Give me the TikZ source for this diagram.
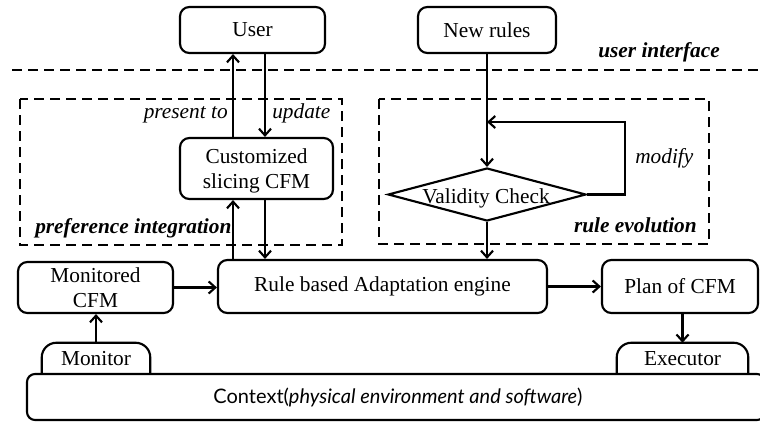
\documentclass[tikz,border=0pt]{standalone}
\usepackage{fontspec}
\setmainfont{Liberation Serif}
\newfontfamily\ctxfont{Lato}
\usetikzlibrary{arrows.meta,shapes.geometric}
\def\pxu{0.75pt}
\begin{document}
\begin{tikzpicture}[x=0.75pt,y=-0.75pt,
  box/.style={draw, line width=1.6pt, rounded corners=7pt, inner sep=0pt,
    font=\fontsize{16}{19}\selectfont, align=center},
  plain/.style={inner sep=0pt, font=\fontsize{16}{19}\selectfont},
  lbl/.style={inner sep=0pt, font=\fontsize{16}{19}\selectfont\itshape},
  blbl/.style={inner sep=0pt, font=\fontsize{16}{19}\selectfont\bfseries\itshape},
  arr/.style={line width=1.6pt, -{Straight Barb[length=5pt,width=9pt,line width=1.6pt]}},
  ln/.style={line width=1.6pt},
  dsh/.style={line width=1.6pt, dash pattern=on 7.5pt off 4.5pt}]
\clip (0,0) rectangle (760,422);
\fill[white] (0,0) rectangle (760,422);

% dashed separators and regions
\draw[dsh] (12,70) -- (760,70);
\draw[dsh] (20,99) rectangle (342,245);
\draw[dsh] (379,99) rectangle (709,244);

% boxes
\node[box, minimum width=145*\pxu, minimum height=46*\pxu] (user) at (252.5,30) {User};
\node[box, minimum width=138*\pxu, minimum height=46*\pxu] (newr) at (487,30) {New rules};
\node[box, minimum width=153*\pxu, minimum height=61*\pxu] (cust) at (256.5,168.5) {};
\node[plain, align=center] (custt) at (256.5,171) {Customized\\slicing CFM};
\node[box, minimum width=155*\pxu, minimum height=51*\pxu] (moncfm) at (95.5,287.5) {Monitored\\CFM};
\node[box, minimum width=329*\pxu, minimum height=53*\pxu] (rule) at (382.5,286.5) {Rule based Adaptation engine};
\node[box, minimum width=156*\pxu, minimum height=53*\pxu] (plan) at (680,286.5) {Plan of CFM};
\node[draw, line width=1.6pt, diamond, shape aspect=3.7, inner sep=0pt,
  minimum width=198*\pxu, minimum height=53*\pxu] (vc) at (487,194.5) {};
\node[plain] (vct) at (486,198) {Validity Check};

% context and sensors
\node[box, rounded corners=6pt, minimum width=738*\pxu, minimum height=46*\pxu] (ctx) at (396,397) {};
\node[inner sep=0pt, font=\ctxfont\fontsize{15}{18}\selectfont] (ctxt) at (398,397) {Context(\textit{physical environment and software})};
\node[plain, minimum width=108*\pxu, minimum height=31*\pxu] (mon) at (96,358.5) {Monitor};
\draw[ln, rounded corners=11pt] (mon.south west) |- (mon.north) -| (mon.south east);
\node[plain, minimum width=131*\pxu, minimum height=31*\pxu] (exec) at (682.5,358.5) {Executor};
\draw[ln, rounded corners=11pt] (exec.south west) |- (exec.north) -| (exec.south east);

% labels
\node[blbl, anchor=base east] (ui) at (720,57) {user interface};
\node[lbl, anchor=base east] (pt) at (228,118) {present to};
\node[lbl, anchor=base west] (up) at (272,118) {update};
\node[blbl, anchor=base west] (pi) at (35,233) {preference integration};
\node[lbl, anchor=base west] (md) at (635,163) {modify};
\node[blbl, anchor=base east] (re) at (697,232) {rule evolution};

% connectors
\coordinate (xa) at (233,0);
\coordinate (xb) at (265,0);
\coordinate (lp) at (625,122);
\draw[arr] (cust.north -| xa) -- (user.south -| xa);
\draw[arr] (user.south -| xb) -- (cust.north -| xb);
\draw[arr] (rule.north -| xa) -- (cust.south -| xa);
\draw[arr] (cust.south -| xb) -- (rule.north -| xb);
\draw[arr] (newr.south) -- (vc.north);
\draw[arr] (vc.east) -| (lp) -- (lp -| vc.north);
\draw[arr] (vc.south) -- (rule.north -| vc.south);
\draw[arr] (moncfm.east) -- (moncfm.east -| rule.west);
\draw[arr] (rule.east) -- (plan.west);
\draw[arr] (mon.north) -- (moncfm.south -| mon.north);
\draw[arr] (plan.south -| exec.north) -- (exec.north);
\end{tikzpicture}
\end{document}
